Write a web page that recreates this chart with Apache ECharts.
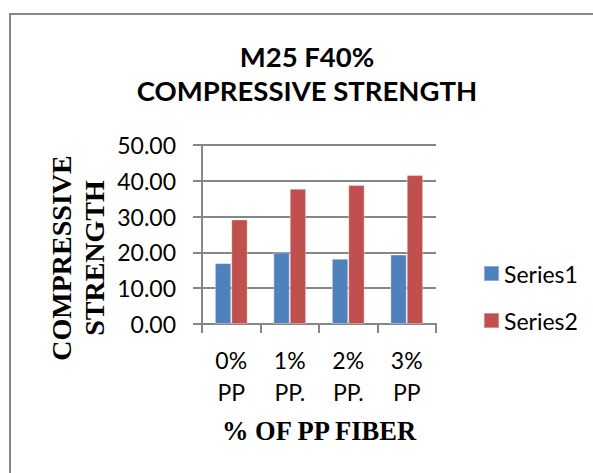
<!DOCTYPE html>
<html>
<head>
<meta charset="utf-8">
<script src="https://cdn.jsdelivr.net/npm/echarts@6/dist/echarts.min.js"></script>
<style>
  html, body { margin: 0; padding: 0; background: #ffffff; }
  #chart { width: 593px; height: 473px; }
</style>
</head>
<body>
<div id="chart"></div>
<script>
// Fibre dosage categories and the two strength series
const categories = ['0%\nPP', '1%\nPP.', '2%\nPP.', '3%\nPP'];
const series1 = [17.0, 20.0, 18.2, 19.4];
const series2 = [29.2, 37.8, 38.8, 41.6];
const seriesNames = ['Series1', 'Series2'];
const yTicks = { min: 0, max: 50, step: 10 };
const titleLines = ['M25 F40%', 'COMPRESSIVE STRENGTH'];
const yTitleLines = ['COMPRESSIVE', 'STRENGTH'];
const xTitle = '% OF PP FIBER';

const sansFont = 'Lato, "Open Sans", sans-serif';
const serifFont = '"Liberation Serif", "DejaVu Serif", serif';
const lineGray = '#868686';

const chart = echarts.init(document.getElementById('chart'), null, { renderer: 'svg' });

chart.setOption({
  animation: false,
  backgroundColor: '#ffffff',
  color: ['#4F81BD', '#C0504D'],
  grid: { left: 202, right: 157, top: 145, bottom: 149, containLabel: false },
  legend: {
    orient: 'vertical',
    left: 478,
    top: 257,
    itemWidth: 15,
    itemHeight: 15,
    itemGap: 24,
    icon: 'rect',
    textStyle: { fontFamily: sansFont, fontSize: 23, color: '#000', lineHeight: 15, padding: [0, 0, 0, 0] },
    data: seriesNames
  },
  xAxis: {
    type: 'category',
    data: categories,
    axisLine: { lineStyle: { color: lineGray, width: 2 } },
    axisTick: { show: true, alignWithLabel: false, length: 9, lineStyle: { color: lineGray, width: 2 } },
    axisLabel: { interval: 0, margin: 20, fontFamily: sansFont, fontSize: 23, lineHeight: 32, color: '#000' }
  },
  yAxis: {
    type: 'value',
    min: yTicks.min,
    max: yTicks.max,
    interval: yTicks.step,
    axisLine: { show: true, lineStyle: { color: lineGray, width: 2 } },
    axisTick: { show: true, length: 9, lineStyle: { color: lineGray, width: 2 } },
    splitLine: { show: true, lineStyle: { color: lineGray, width: 2 } },
    axisLabel: {
      margin: 26,
      fontFamily: sansFont,
      fontSize: 23,
      color: '#000',
      formatter: v => v.toFixed(2)
    }
  },
  series: [
    { name: seriesNames[0], type: 'bar', data: series1, barGap: '0%', barCategoryGap: '44%',
      itemStyle: { borderColor: 'rgba(255,255,255,0.35)', borderWidth: 1 } },
    { name: seriesNames[1], type: 'bar', data: series2, barGap: '0%', barCategoryGap: '44%',
      itemStyle: { borderColor: 'rgba(255,255,255,0.35)', borderWidth: 1 } }
  ],
  graphic: [
    // chart frame
    { type: 'rect', shape: { x: 10, y: 14, width: 600, height: 480 },
      style: { fill: 'none', stroke: lineGray, lineWidth: 2 }, silent: true, z: -1 },
    // chart title
    { type: 'text', x: 307, y: 73,
      style: { text: titleLines.join('\n'), fontFamily: sansFont, fontWeight: 'bold', fontSize: 27.5,
               lineHeight: 34, fill: '#000', align: 'center', verticalAlign: 'middle' } },
    // value axis title
    { type: 'text', x: 78, y: 258, rotation: Math.PI / 2,
      style: { text: yTitleLines.join('\n'), fontFamily: serifFont, fontWeight: 'bold', fontSize: 28,
               lineHeight: 33, fill: '#000', align: 'center', verticalAlign: 'middle' } },
    // category axis title
    { type: 'text', x: 319, y: 431,
      style: { text: xTitle, fontFamily: serifFont, fontWeight: 'bold', fontSize: 26.5,
               fill: '#000', align: 'center', verticalAlign: 'middle' } }
  ]
});
</script>
</body>
</html>
